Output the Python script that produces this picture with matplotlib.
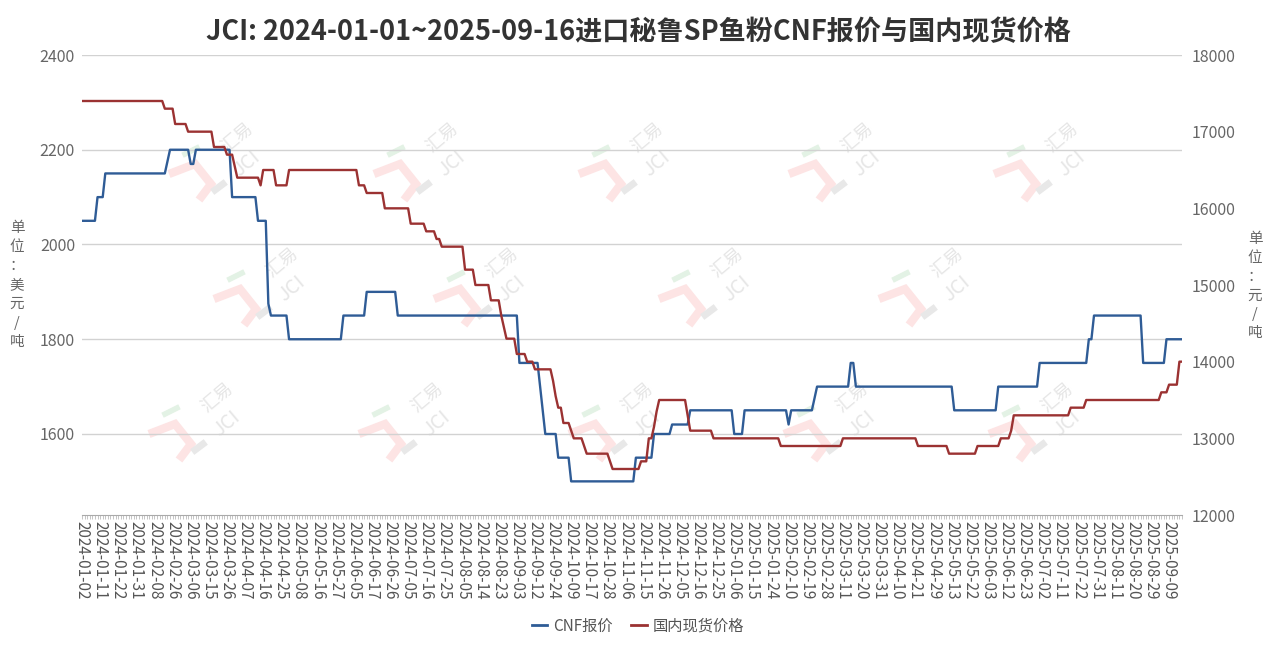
import numpy as np
import pandas as pd
import matplotlib
matplotlib.use('Agg')
import matplotlib.pyplot as plt
from matplotlib.lines import Line2D

plt.rcParams['font.family'] = ['Noto Sans CJK SC', 'DejaVu Sans']

title = 'JCI: 2024-01-01~2025-09-16进口秘鲁SP鱼粉CNF报价与国内现货价格'
cnf_name = 'CNF报价'
spot_name = '国内现货价格'

# trading calendar (China working days)
start, end = '2024-01-02', '2025-09-16'
holidays = ['2024-02-09', '2024-02-12', '2024-02-13', '2024-02-14', '2024-02-15',
            '2024-02-16', '2024-04-04', '2024-04-05', '2024-05-01', '2024-05-02',
            '2024-05-03', '2024-06-10', '2024-09-16', '2024-09-17', '2024-10-01',
            '2024-10-02', '2024-10-03', '2024-10-04', '2024-10-07', '2025-01-01',
            '2025-01-28', '2025-01-29', '2025-01-30', '2025-01-31', '2025-02-03',
            '2025-02-04', '2025-04-04', '2025-05-01', '2025-05-02', '2025-05-05',
            '2025-06-02']
extra_workdays = ['2024-02-04', '2024-02-18', '2024-04-07', '2024-04-28', '2024-05-11',
                  '2024-09-14', '2024-09-29', '2024-10-12', '2025-01-26', '2025-02-08',
                  '2025-04-27']

# CNF price (USD/t): level and number of days it holds
cnf_levels = [2050, 2100, 2150, 2175, 2200, 2170, 2200, 2100, 2050, 1875,
              1850, 1800, 1850, 1900, 1850, 1750, 1700, 1650, 1600, 1550,
              1500, 1550, 1600, 1620, 1650, 1600, 1650, 1620, 1650, 1675,
              1700, 1750, 1700, 1650, 1700, 1750, 1800, 1850, 1750, 1800]
cnf_days = [6, 3, 24, 1, 8, 2, 14, 10, 4, 1,
            7, 21, 9, 12, 47, 8, 1, 1, 5, 5,
            25, 7, 7, 7, 17, 4, 17, 1, 9, 1,
            13, 2, 38, 17, 16, 19, 2, 19, 9, 7]

# domestic spot price (CNY/t)
spot_levels = [17400, 17300, 17100, 17000, 16800, 16700, 16550, 16400, 16300, 16500,
               16300, 16500, 16300, 16200, 16000, 15800, 15700, 15600, 15500, 15200,
               15000, 14800, 14600, 14450, 14300, 14100, 14000, 13900, 13750, 13550,
               13400, 13200, 13100, 13000, 12900, 12800, 12700, 12600, 12700, 13000,
               13150, 13350, 13500, 13300, 13100, 13000, 12900, 13000, 12900, 12800,
               12900, 13000, 13100, 13300, 13400, 13500, 13600, 13700, 14000]
spot_days = [32, 4, 5, 10, 5, 3, 1, 9, 1, 5,
             5, 27, 3, 7, 10, 6, 4, 2, 9, 4,
             6, 4, 1, 1, 4, 4, 3, 7, 1, 1,
             2, 3, 1, 4, 1, 9, 1, 11, 3, 2,
             1, 1, 11, 1, 9, 26, 24, 29, 12, 11,
             9, 4, 1, 22, 6, 29, 3, 4, 2]

left_ticks = [1600, 1800, 2000, 2200, 2400]
right_ticks = [12000, 13000, 14000, 15000, 16000, 17000, 18000]

dates = pd.bdate_range(start, end, freq='C', holidays=holidays)
dates = dates.union(pd.DatetimeIndex(extra_workdays)).sort_values()
labels = list(dates.strftime('%Y-%m-%d'))
cnf = np.repeat(cnf_levels, cnf_days)
spot = np.repeat(spot_levels, spot_days)
x = np.arange(len(dates))

blue = '#2f5c96'
red = '#9b3232'
W, H = 1276, 651

fig = plt.figure(figsize=(W / 100, H / 100), dpi=100)

# watermark layer behind the chart
bg = fig.add_axes([0, 0, 1, 1], zorder=0)
bg.set_xlim(0, W)
bg.set_ylim(H, 0)
bg.axis('off')


def watermark(cx, cy):
    bg.plot([cx - 56, cx - 30, cx - 14, cx - 26], [cy + 14, cy + 4, cy + 24, cy + 40],
            color='#fde4e4', lw=6, solid_capstyle='butt', solid_joinstyle='miter')
    bg.plot([cx - 40, cx - 28], [cy - 6, cy - 12], color='#e3f2e5', lw=4)
    bg.plot([cx - 10, cx - 2], [cy + 30, cy + 24], color='#e8e8e8', lw=5)
    bg.text(cx + 12, cy - 22, '汇易', rotation=40, color='#e6e6e6', fontsize=13,
            ha='center', va='center')
    bg.text(cx + 22, cy + 4, 'JCI', rotation=40, color='#e6e6e6', fontsize=14,
            ha='center', va='center')


for wx in [225, 430, 635, 845, 1050]:
    watermark(wx, 160)
for wx in [270, 490, 715, 935]:
    watermark(wx, 285)
for wx in [205, 415, 625, 840, 1045]:
    watermark(wx, 420)

ax = fig.add_axes([82 / W, 136 / H, 1100 / W, 460 / H], zorder=1)
ax.patch.set_visible(False)
ax.plot(x, cnf, color=blue, lw=1.7)
ax.set_xlim(0, len(x) - 1)
ax.set_ylim(1429, 2400)
ax.set_yticks(left_ticks)
ax.yaxis.grid(True, color='#d2d2d2', lw=1)
ax.set_axisbelow(True)
for s in ['top', 'left', 'right']:
    ax.spines[s].set_visible(False)
ax.spines['bottom'].set_color('#aaaaaa')
ax.tick_params(axis='y', length=0, labelcolor='#666666', labelsize=11.5, pad=5)
ax.set_xticks(x[::7])
ax.set_xticklabels(labels[::7], rotation=-90, fontsize=11, color='#555555')
ax.set_xticks(x, minor=True)
ax.tick_params(axis='x', which='both', length=3, color='#bbbbbb', width=0.6, pad=1)

ax2 = ax.twinx()
ax2.plot(x, spot, color=red, lw=1.7)
ax2.set_ylim(12000, 18000)
ax2.set_yticks(right_ticks)
for s in ['top', 'left', 'right', 'bottom']:
    ax2.spines[s].set_visible(False)
ax2.tick_params(axis='y', length=0, labelcolor='#666666', labelsize=11.5, pad=7)

fig.text(0.5, 1 - 32 / H, title, ha='center', va='center', fontsize=19.5,
         fontweight='bold', color='#333333')
fig.text(17 / W, 1 - 285 / H, '\n'.join('单位：美元/吨'), ha='center', va='center',
         fontsize=10.5, color='#666666', linespacing=1.45)
fig.text(1255 / W, 1 - 286 / H, '\n'.join('单位：元/吨'), ha='center', va='center',
         fontsize=10.5, color='#666666', linespacing=1.45)

handles = [Line2D([], [], color=blue, lw=2), Line2D([], [], color=red, lw=2)]
fig.legend(handles, [cnf_name, spot_name], loc='center', bbox_to_anchor=(0.5, 1 - 626 / H),
           ncol=2, frameon=False, fontsize=11, handlelength=1.0, handletextpad=0.4,
           columnspacing=1.2, labelcolor='#555555')

fig.savefig('out.png', dpi=100)
